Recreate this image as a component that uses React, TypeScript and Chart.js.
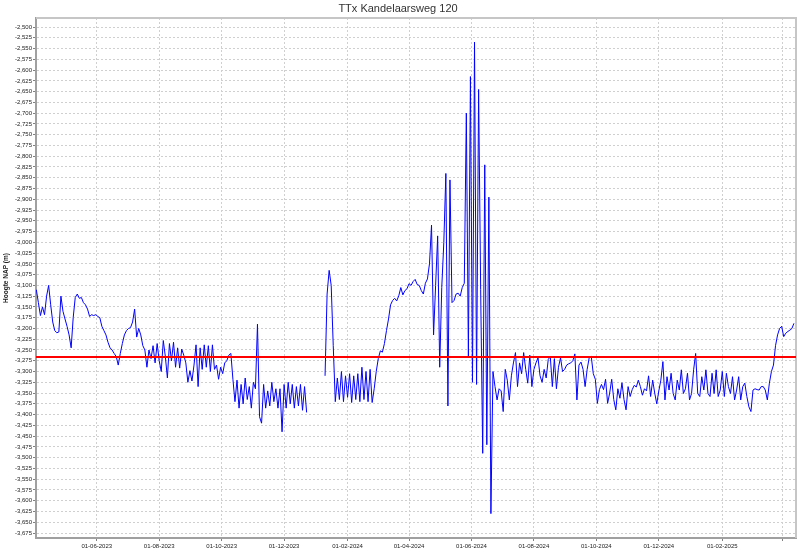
import React, { useEffect, useRef } from 'react';
import { Chart, registerables } from 'chart.js';

Chart.register(...registerables);

const chartTitle = 'TTx Kandelaarsweg 120';
const yAxisTitle = 'Hoogte NAP (m)';

// measurement series (every 2 days from the first date)
const firstMeasurement = '2023-04-03';
const measurementIntervalDays = 2;
const hoogte: (number | null)[] = [
  -3.110, -3.140, -3.170, -3.150, -3.168, -3.125, -3.100, -3.145, -3.185, -3.205,
  -3.210, -3.208, -3.125, -3.160, -3.178, -3.195, -3.215, -3.245, -3.175, -3.128,
  -3.120, -3.130, -3.128, -3.140, -3.145, -3.155, -3.172, -3.168, -3.170, -3.168,
  -3.172, -3.175, -3.195, -3.205, -3.215, -3.232, -3.245, -3.250, -3.258, -3.265,
  -3.285, -3.258, -3.235, -3.215, -3.205, -3.200, -3.198, -3.185, -3.155, -3.220,
  -3.200, -3.215, -3.240, -3.250, -3.290, -3.250, -3.270, -3.240, -3.280, -3.235,
  -3.275, -3.300, -3.228, -3.265, -3.315, -3.235, -3.275, -3.232, -3.290, -3.245,
  -3.292, -3.248, -3.262, -3.280, -3.325, -3.298, -3.322, -3.285, -3.238, -3.335,
  -3.245, -3.295, -3.238, -3.290, -3.240, -3.300, -3.238, -3.295, -3.285, -3.318,
  -3.290, -3.305, -3.280, -3.275, -3.262, -3.258, -3.318, -3.370, -3.320, -3.385,
  -3.330, -3.375, -3.315, -3.365, -3.335, -3.385, -3.325, -3.340, -3.190, -3.405,
  -3.420, -3.330, -3.385, -3.345, -3.380, -3.325, -3.370, -3.340, -3.385, -3.340,
  -3.440, -3.330, -3.385, -3.325, -3.375, -3.330, -3.385, -3.335, -3.380, -3.330,
  -3.390, -3.335, -3.395, null, null, null, null, null, null, null,
  null, -3.310, -3.120, -3.065, -3.100, -3.240, -3.370, -3.315, -3.365, -3.300,
  -3.370, -3.310, -3.360, -3.305, -3.372, -3.310, -3.365, -3.305, -3.370, -3.290,
  -3.365, -3.300, -3.370, -3.295, -3.372, -3.340, -3.300, -3.270, -3.252, -3.255,
  -3.235, -3.205, -3.178, -3.145, -3.135, -3.130, -3.136, -3.124, -3.105, -3.122,
  -3.112, -3.108, -3.096, -3.100, -3.091, -3.086, -3.098, -3.100, -3.112, -3.120,
  -3.095, -3.085, -3.050, -2.960, -3.215, -3.100, -2.985, -3.290, -3.105, -3.000,
  -2.840, -3.380, -2.855, -3.140, -3.135, -3.120, -3.118, -3.125, -3.105, -3.095,
  -2.700, -3.265, -2.615, -3.325, -2.535, -3.330, -2.645, -3.110, -3.490, -2.820,
  -3.470, -2.895, -3.630, -3.300, -3.335, -3.366, -3.340, -3.345, -3.393, -3.295,
  -3.320, -3.366, -3.310, -3.280, -3.256, -3.335, -3.280, -3.305, -3.256, -3.295,
  -3.327, -3.262, -3.335, -3.295, -3.280, -3.268, -3.310, -3.325, -3.295, -3.315,
  -3.272, -3.265, -3.335, -3.270, -3.340, -3.290, -3.268, -3.300, -3.295, -3.285,
  -3.282, -3.280, -3.275, -3.259, -3.366, -3.285, -3.278, -3.295, -3.335, -3.295,
  -3.268, -3.265, -3.305, -3.318, -3.374, -3.342, -3.330, -3.342, -3.318, -3.374,
  -3.350, -3.318, -3.365, -3.389, -3.340, -3.362, -3.326, -3.365, -3.389, -3.335,
  -3.358, -3.342, -3.332, -3.336, -3.320, -3.335, -3.355, -3.340, -3.345, -3.310,
  -3.358, -3.320, -3.350, -3.375, -3.345, -3.320, -3.277, -3.366, -3.312, -3.343,
  -3.304, -3.351, -3.366, -3.320, -3.343, -3.296, -3.351, -3.340, -3.304, -3.366,
  -3.351, -3.296, -3.258, -3.351, -3.358, -3.312, -3.343, -3.296, -3.351, -3.358,
  -3.304, -3.351, -3.296, -3.358, -3.343, -3.300, -3.358, -3.304, -3.335, -3.351,
  -3.312, -3.366, -3.343, -3.312, -3.366, -3.335, -3.327, -3.358, -3.382, -3.393,
  -3.343, -3.340, -3.342, -3.343, -3.335, -3.335, -3.343, -3.366, -3.327, -3.300,
  -3.285, -3.240, -3.215, -3.200, -3.195, -3.219, -3.211, -3.207, -3.204, -3.200,
  -3.188,
];

const referenceLevel = -3.266;

const xAxisStart = '2023-04-02T16:00:00Z';
const xAxisEnd = '2025-04-14T00:00:00Z';
const xTickDates = [
  '2023-06-01', '2023-08-01', '2023-10-01', '2023-12-01', '2024-02-01', '2024-04-01',
  '2024-06-01', '2024-08-01', '2024-10-01', '2024-12-01', '2025-02-01', '2025-04-01',
];
const xTickLabels = [
  '01-06-2023', '01-08-2023', '01-10-2023', '01-12-2023', '01-02-2024', '01-04-2024',
  '01-06-2024', '01-08-2024', '01-10-2024', '01-12-2024', '01-02-2025', '',
];

const yMin = -3.6866;
const yMax = -2.479;
const yStep = 0.025;

const DAY = 86400000;
const toTime = (s: string) => Date.parse(s + 'T00:00:00Z');

export default function App() {
  const canvasRef = useRef<HTMLCanvasElement | null>(null);

  useEffect(() => {
    const canvas = canvasRef.current;
    if (!canvas) return;
    const start = toTime(firstMeasurement);
    const series = hoogte.map((v, i) => ({ x: start + i * measurementIntervalDays * DAY, y: v }));
    const xMin = Date.parse(xAxisStart);
    const xMax = Date.parse(xAxisEnd);
    const tickValues = xTickDates.map(toTime);
    const tickFont = { family: 'Liberation Sans', size: 6 };

    const frame = {
      id: 'frame',
      beforeDatasetsDraw(chart: any) {
        const { ctx, chartArea } = chart;
        ctx.save();
        ctx.strokeStyle = '#c6c6c6';
        ctx.lineWidth = 2;
        ctx.beginPath();
        ctx.moveTo(chartArea.left, chartArea.top);
        ctx.lineTo(chartArea.right, chartArea.top);
        ctx.lineTo(chartArea.right, chartArea.bottom);
        ctx.stroke();
        ctx.restore();
      },
    };

    const chart = new Chart(canvas, {
      type: 'line',
      data: {
        datasets: [
          {
            label: 'Referentie',
            data: [
              { x: xMin, y: referenceLevel },
              { x: xMax, y: referenceLevel },
            ],
            borderColor: '#ff0000',
            borderWidth: 2,
            pointRadius: 0,
            order: 0,
          },
          {
            label: chartTitle,
            data: series as any,
            borderColor: '#0000ff',
            borderWidth: 1,
            pointRadius: 0,
            tension: 0,
            spanGaps: false,
            borderJoinStyle: 'round',
            order: 1,
          },
        ],
      },
      options: {
        animation: false,
        responsive: false,
        layout: { padding: { left: 0, right: 1, top: 0, bottom: 0 } },
        plugins: {
          legend: { display: false },
          tooltip: { enabled: false },
          title: {
            display: true,
            text: chartTitle,
            color: '#333333',
            font: { family: 'Liberation Sans', size: 11, weight: 'normal' },
            padding: { top: 2, bottom: 2.8 },
          },
        },
        scales: {
          x: {
            type: 'linear',
            min: xMin,
            max: xMax,
            afterBuildTicks: (scale: any) => {
              scale.ticks = tickValues.map((v) => ({ value: v }));
            },
            afterFit: (scale: any) => {
              scale.height = 15;
            },
            ticks: {
              autoSkip: false,
              maxRotation: 0,
              minRotation: 0,
              padding: 2,
              color: '#222222',
              font: tickFont,
              callback: (_v: any, index: number) => xTickLabels[index] ?? '',
            },
            grid: {
              color: '#d0d0d0',
              lineWidth: 1,
              tickLength: 3,
              tickColor: '#808080',
            },
            border: { display: true, color: '#a0a0a0', width: 2, dash: [2, 2] },
          },
          y: {
            type: 'linear',
            min: yMin,
            max: yMax,
            afterFit: (scale: any) => {
              scale.width = 36;
            },
            ticks: {
              stepSize: yStep,
              includeBounds: false,
              autoSkip: false,
              padding: 1,
              color: '#222222',
              font: tickFont,
              callback: (v: any) => Number(v).toFixed(3).replace('.', ','),
            },
            title: {
              display: true,
              text: yAxisTitle,
              color: '#222222',
              font: { family: 'Liberation Sans', size: 6.5, weight: 'bold' },
              padding: { top: 2, bottom: 0 },
            },
            grid: {
              color: '#d0d0d0',
              lineWidth: 1,
              tickLength: 3,
              tickColor: '#808080',
            },
            border: { display: true, color: '#a0a0a0', width: 2, dash: [2, 2] },
          },
        },
      } as any,
      plugins: [frame],
    });

    return () => chart.destroy();
  }, []);

  return (
    <div style={{ position: 'fixed', left: 0, top: 0, width: 812, height: 553, background: '#ffffff' }}>
      <canvas ref={canvasRef} width={797} height={553} style={{ display: 'block' }} />
    </div>
  );
}
